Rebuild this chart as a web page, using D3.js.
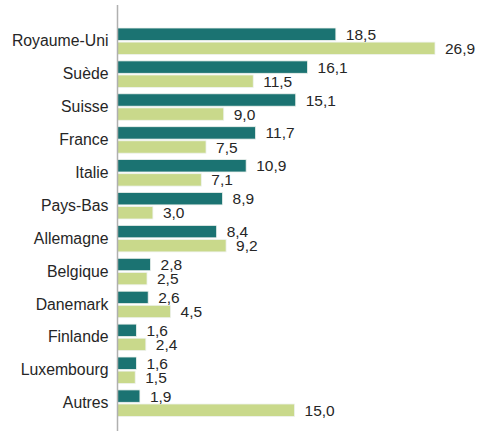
<!DOCTYPE html>
<html>
<head>
<meta charset="utf-8">
<script src="https://cdn.jsdelivr.net/npm/d3@7"></script>
<style>
  html, body { margin: 0; padding: 0; background: #fff; }
  svg { display: block; }
  text { font-family: "Liberation Sans", Arial, sans-serif; fill: #262626; }
</style>
</head>
<body>
<svg id="chart" width="478" height="431"></svg>
<script>
const categories = ["Royaume-Uni", "Suède", "Suisse", "France", "Italie", "Pays-Bas", "Allemagne", "Belgique", "Danemark", "Finlande", "Luxembourg", "Autres"];
const seriesNames = ["A", "B"];
const seriesA = [18.5, 16.1, 15.1, 11.7, 10.9, 8.9, 8.4, 2.8, 2.6, 1.6, 1.6, 1.9];
const seriesB = [26.9, 11.5, 9.0, 7.5, 7.1, 3.0, 9.2, 2.5, 4.5, 2.4, 1.5, 15.0];
const colors = ["#1b7372", "#c9d98b"];

const svg = d3.select("#chart");
const x0 = 117.5;
const x = d3.scaleLinear().domain([0, 26.9]).range([x0, 435]);
const y = d3.scaleBand().domain(categories).range([28, 416.4]).paddingInner(0.195).paddingOuter(0);
const ySub = d3.scaleBand().domain(seriesNames).range([0, y.bandwidth()]).paddingInner(0.12);

const fmt = v => d3.format(".1f")(v).replace(".", ",");

const rows = categories.map((c, i) => ({ cat: c, vals: [seriesA[i], seriesB[i]] }));

const g = svg.selectAll("g.cat").data(rows).join("g")
  .attr("class", "cat")
  .attr("transform", d => `translate(0,${y(d.cat)})`);

g.selectAll("rect").data(d => d.vals.map((v, j) => ({ v, s: seriesNames[j], j }))).join("rect")
  .attr("x", x(0))
  .attr("y", d => ySub(d.s))
  .attr("width", d => x(d.v) - x(0))
  .attr("height", ySub.bandwidth())
  .attr("fill", d => colors[d.j])
  .attr("stroke", "#eef2ee")
  .attr("stroke-width", 0.8);

g.selectAll("text.val").data(d => d.vals.map((v, j) => ({ v, s: seriesNames[j], j }))).join("text")
  .attr("class", "val")
  .attr("x", d => x(d.v) + 10)
  .attr("y", d => ySub(d.s) + ySub.bandwidth() / 2)
  .attr("dy", "0.36em")
  .attr("font-size", "15.5px")
  .text(d => fmt(d.v));

// category axis
const axis = d3.axisLeft(y).tickSize(0).tickPadding(9);
const ag = svg.append("g").attr("transform", `translate(${x0},0)`).call(axis);
ag.select(".domain").remove();
ag.selectAll("text").attr("font-size", "15.8px").style("font-family", "'Liberation Sans', Arial, sans-serif").attr("fill", "#262626");

svg.append("line")
  .attr("x1", x0).attr("x2", x0)
  .attr("y1", 5).attr("y2", 431)
  .attr("stroke", "#b0b0b0").attr("stroke-width", 1.5);
</script>
</body>
</html>
